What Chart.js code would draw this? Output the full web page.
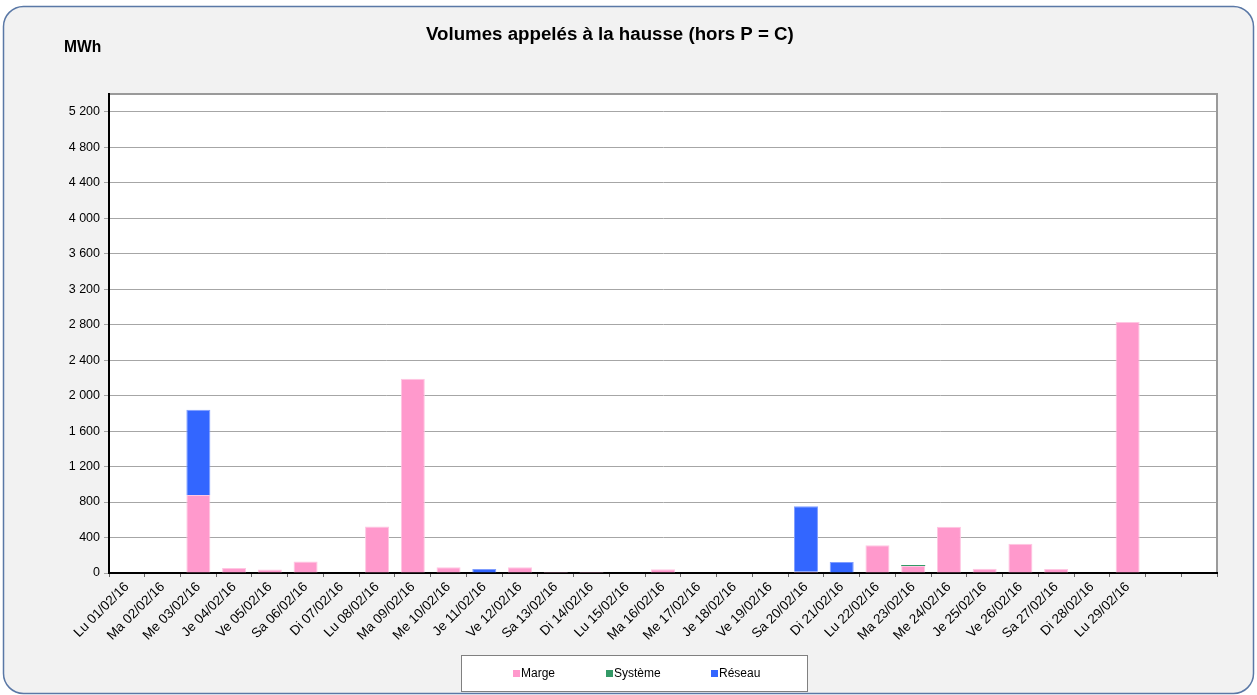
<!DOCTYPE html>
<html>
<head>
<meta charset="utf-8">
<script src="https://cdn.jsdelivr.net/npm/chart.js@4.4.1/dist/chart.umd.min.js"></script>
<style>
  html, body { margin: 0; padding: 0; background: #fff; }
  #wrap { width: 1257px; height: 695px; position: relative; }
</style>
</head>
<body>
<div id="wrap"><canvas id="volChart" width="1257" height="695"></canvas></div>
<script>
// categories: 29 days of Feb 2016 + 2 empty slots at the end
const days = [
  "Lu 01/02/16", "Ma 02/02/16", "Me 03/02/16", "Je 04/02/16", "Ve 05/02/16",
  "Sa 06/02/16", "Di 07/02/16", "Lu 08/02/16", "Ma 09/02/16", "Me 10/02/16",
  "Je 11/02/16", "Ve 12/02/16", "Sa 13/02/16", "Di 14/02/16", "Lu 15/02/16",
  "Ma 16/02/16", "Me 17/02/16", "Je 18/02/16", "Ve 19/02/16", "Sa 20/02/16",
  "Di 21/02/16", "Lu 22/02/16", "Ma 23/02/16", "Me 24/02/16", "Je 25/02/16",
  "Ve 26/02/16", "Sa 27/02/16", "Di 28/02/16", "Lu 29/02/16", "", ""
];

// MWh
const marge = [0, 0, 880, 55, 40, 130, 0, 525, 2190, 65,
  0, 65, 10, 10, 0, 42, 0, 0, 0, 15,
  0, 312, 78, 522, 48, 330, 45, 0, 2830];
const systeme = [0, 0, 0, 0, 0, 0, 0, 0, 0, 0,
  0, 0, 0, 0, 0, 0, 0, 0, 0, 0,
  0, 0, 12, 0, 0, 0, 0, 0, 0];
const reseau = [0, 0, 960, 0, 0, 0, 0, 0, 0, 0,
  45, 0, 0, 0, 0, 0, 0, 0, 0, 737,
  124, 0, 0, 0, 0, 0, 0, 0, 0];

const yTicks = { max: 5400, step: 400 };

const chartTitle = "Volumes appelés à la hausse (hors P = C)";
const unitLabel = "MWh";

function fmt(v) {
  return String(v).replace(/\B(?=(\d{3})+(?!\d))/g, " ");
}

// frame, title, unit and legend box
const frame = {
  id: "frame",
  beforeDraw(chart) {
    const ctx = chart.ctx;
    const a = chart.chartArea;
    ctx.save();
    ctx.fillStyle = "#fff";
    ctx.fillRect(0, 0, chart.width, chart.height);
    ctx.beginPath();
    ctx.roundRect(3.5, 6.5, 1250, 687, 20);
    ctx.fillStyle = "#f2f2f2";
    ctx.fill();
    ctx.strokeStyle = "#5a78a6";
    ctx.lineWidth = 1.5;
    ctx.stroke();
    ctx.fillStyle = "#fff";
    ctx.fillRect(a.left, a.top, a.right - a.left, a.bottom - a.top);
    ctx.restore();
  },
  afterDraw(chart) {
    const ctx = chart.ctx;
    const a = chart.chartArea;
    ctx.save();
    // top / right border of plot area
    ctx.strokeStyle = "#9a9a9a";
    ctx.lineWidth = 2;
    ctx.beginPath();
    ctx.moveTo(a.left + 1, a.top);
    ctx.lineTo(a.right, a.top);
    ctx.lineTo(a.right, a.bottom - 1);
    ctx.stroke();

    ctx.fillStyle = "#000";
    ctx.textBaseline = "middle";
    ctx.font = "bold 18.7px 'Liberation Sans', Arial, sans-serif";
    ctx.textAlign = "left";
    ctx.fillText(chartTitle, 426, 35);
    ctx.font = "bold 15.6px 'Liberation Sans', Arial, sans-serif";
    ctx.fillText(unitLabel, 64, 48);

    // legend
    ctx.fillStyle = "#fff";
    ctx.fillRect(461.5, 655.5, 346, 36);
    ctx.strokeStyle = "#808080";
    ctx.lineWidth = 1;
    ctx.strokeRect(461.5, 655.5, 346, 36);
    const xs = [513, 606, 711];
    ctx.font = "12px 'Liberation Sans', Arial, sans-serif";
    chart.data.datasets.forEach((ds, i) => {
      ctx.fillStyle = ds.backgroundColor;
      ctx.fillRect(xs[i], 670, 7, 7);
      ctx.fillStyle = "#000";
      ctx.fillText(ds.label, xs[i] + 8, 674);
    });
    ctx.restore();
  }
};

const ctx = document.getElementById("volChart").getContext("2d");
new Chart(ctx, {
  type: "bar",
  data: {
    labels: days,
    datasets: [
      { label: "Marge", data: marge, backgroundColor: "#ff99cc", borderColor: "#ffc6e2", borderWidth: 1 },
      { label: "Système", data: systeme, backgroundColor: "#339966", borderColor: "#339966", borderWidth: 0 },
      { label: "Réseau", data: reseau, backgroundColor: "#3366ff", borderColor: "#7f9dff", borderWidth: 1 }
    ]
  },
  options: {
    responsive: false,
    animation: false,
    barPercentage: 0.672,
    categoryPercentage: 1,
    layout: { padding: { top: 94, right: 40, left: 0, bottom: 0 } },
    plugins: {
      legend: { display: false },
      title: { display: false },
      tooltip: { enabled: false }
    },
    scales: {
      x: {
        stacked: true,
        afterFit(scale) { scale.height = 122; },
        border: { color: "#000", width: 2 },
        grid: { drawOnChartArea: false, drawTicks: true, tickLength: 4, color: "#666" },
        ticks: {
          autoSkip: false,
          maxRotation: 45,
          minRotation: 45,
          padding: 2,
          color: "#000",
          font: { family: "'Liberation Sans', Arial, sans-serif", size: 13.5 }
        }
      },
      y: {
        stacked: true,
        min: 0,
        max: yTicks.max,
        afterFit(scale) { scale.width = 109; },
        border: { color: "#000", width: 2 },
        grid: { color: "#a6a6a6", lineWidth: 1, tickLength: 5, tickColor: "#a6a6a6" },
        ticks: {
          stepSize: yTicks.step,
          includeBounds: false,
          padding: 4,
          color: "#000",
          font: { family: "'Liberation Sans', Arial, sans-serif", size: 12.5 },
          callback: (v) => fmt(v)
        }
      }
    }
  },
  plugins: [frame]
});
</script>
</body>
</html>
